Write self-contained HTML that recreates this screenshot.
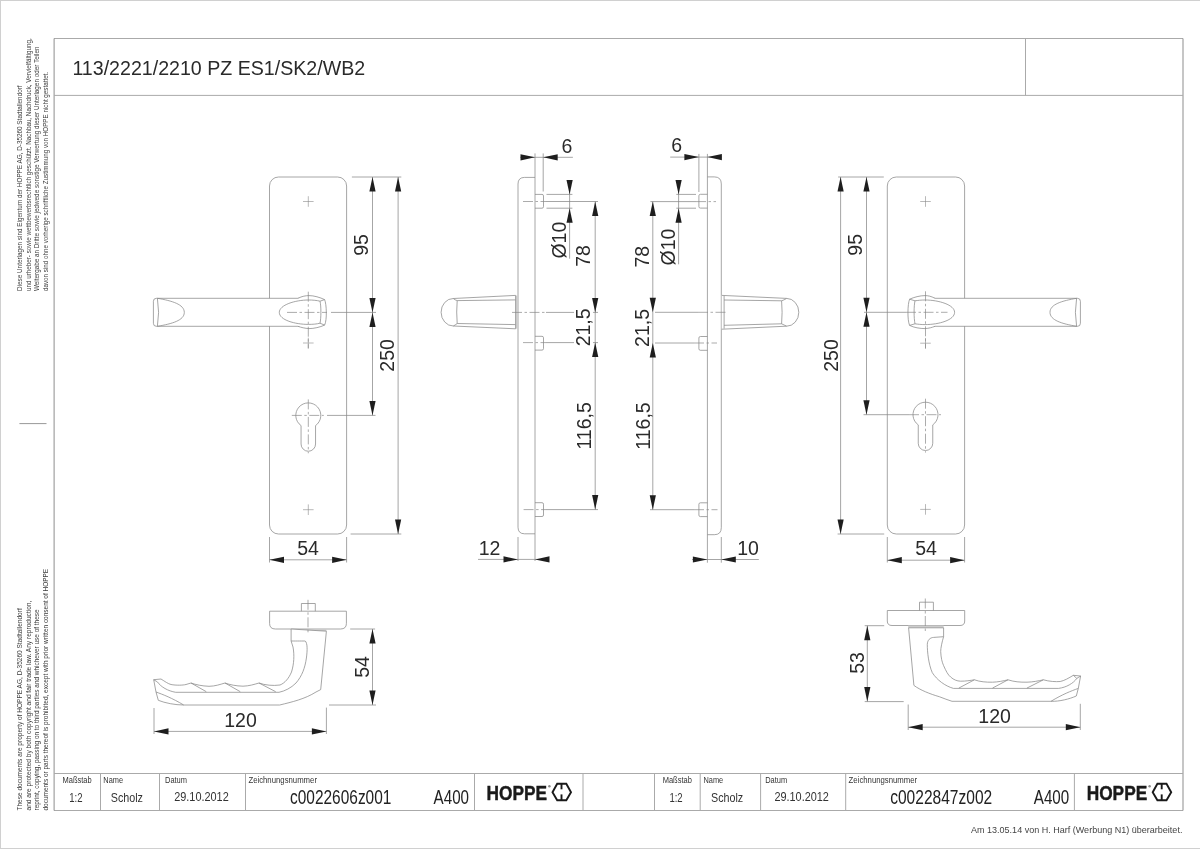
<!DOCTYPE html><html><head><meta charset="utf-8"><title>HOPPE 113/2221/2210</title><style>
html,body{margin:0;padding:0;background:#fff;}
svg{display:block;will-change:transform;}
text{font-family:"Liberation Sans",sans-serif;}
.pb{stroke:#d0d0d0;stroke-width:1;}
.fr{stroke:#aaa;stroke-width:1;fill:none;}
.fr2{stroke:#8d8d8d;stroke-width:1;}
.t{stroke:#888;stroke-width:0.75;fill:none;}
.tw{stroke:#888;stroke-width:0.75;fill:#fff;}
.wf{fill:#fff;stroke:none;}
.c{stroke:#8a8a8a;stroke-width:0.6;}
.cl{stroke:#888;stroke-width:0.7;stroke-dasharray:10 2.5 2.5 2.5;fill:none;}
.tk{stroke:#999;stroke-width:1;}
.ar{fill:#1e1e1e;}
.dt{fill:#2a2a2a;}
.ti{fill:#2a2a2a;}
.lg{fill:#3a3a3a;}
.tb{fill:#333;}
.tv{fill:#333;}
.tn{fill:#222;}
.lo{fill:#1a1a1a;font-weight:bold;stroke:#1a1a1a;stroke-width:0.45;}
.hx{stroke:#1a1a1a;stroke-width:1.9;fill:none;}
.bt{fill:#444;}
</style></head><body><svg width="1200" height="849" viewBox="0 0 1200 849"><rect x="0" y="0" width="1200" height="849" fill="#fff"/>
<line class="pb" x1="0.5" y1="0" x2="0.5" y2="849"/>
<line class="pb" x1="0" y1="0.5" x2="1200" y2="0.5"/>
<line class="pb" x1="0" y1="848.5" x2="1200" y2="848.5"/>
<line class="fr" x1="54" y1="38.5" x2="1183" y2="38.5"/>
<line class="fr" x1="54" y1="810.5" x2="1183" y2="810.5"/>
<line class="fr2" x1="54.1" y1="38.5" x2="54.1" y2="810.5"/>
<line class="fr2" x1="1183" y1="38.5" x2="1183" y2="810.5"/>
<line class="fr" x1="54" y1="95.4" x2="1183" y2="95.4"/>
<line class="fr" x1="1025.5" y1="38.5" x2="1025.5" y2="95.4"/>
<line class="fr" x1="54" y1="773.5" x2="1183" y2="773.5"/>
<line class="fr" x1="100.5" y1="773.5" x2="100.5" y2="810.5"/>
<line class="fr" x1="159.5" y1="773.5" x2="159.5" y2="810.5"/>
<line class="fr" x1="245.5" y1="773.5" x2="245.5" y2="810.5"/>
<line class="fr" x1="474.5" y1="773.5" x2="474.5" y2="810.5"/>
<line class="fr" x1="583" y1="773.5" x2="583" y2="810.5"/>
<line class="fr" x1="654.5" y1="773.5" x2="654.5" y2="810.5"/>
<line class="fr" x1="700.2" y1="773.5" x2="700.2" y2="810.5"/>
<line class="fr" x1="760.6" y1="773.5" x2="760.6" y2="810.5"/>
<line class="fr" x1="845.7" y1="773.5" x2="845.7" y2="810.5"/>
<line class="fr" x1="1074.4" y1="773.5" x2="1074.4" y2="810.5"/>
<text class="ti" x="72.4" y="74.5" font-size="20.4" text-anchor="start" textLength="292.8" lengthAdjust="spacingAndGlyphs">113/2221/2210 PZ ES1/SK2/WB2</text>
<text class="lg" transform="translate(21.9 291) rotate(-90)" font-size="7.4" text-anchor="start" textLength="205.6" lengthAdjust="spacingAndGlyphs">Diese Unterlagen sind Eigentum der  HOPPE AG, D-35260 Stadtallendorf</text>
<text class="lg" transform="translate(30.7 291) rotate(-90)" font-size="7.4" text-anchor="start" textLength="252.7" lengthAdjust="spacingAndGlyphs">und urheber- sowie wettbewerbsrechtlich geschützt. Nachbau, Nachdruck, Vervielfältigung,</text>
<text class="lg" transform="translate(38.9 291) rotate(-90)" font-size="7.4" text-anchor="start" textLength="244.5" lengthAdjust="spacingAndGlyphs">Weitergabe an Dritte sowie jedwede sonstige Verwertung dieser Unterlagen oder Teilen</text>
<text class="lg" transform="translate(47.9 291) rotate(-90)" font-size="7.4" text-anchor="start" textLength="219.1" lengthAdjust="spacingAndGlyphs">davon sind ohne vorherige schriftliche Zustimmung von HOPPE nicht gestattet.</text>
<text class="lg" transform="translate(21.5 810.5) rotate(-90)" font-size="7.4" text-anchor="start" textLength="202.2" lengthAdjust="spacingAndGlyphs">These documents are property of HOPPE AG, D-35260 Stadtallendorf</text>
<text class="lg" transform="translate(30.8 810.5) rotate(-90)" font-size="7.4" text-anchor="start" textLength="209.8" lengthAdjust="spacingAndGlyphs">and are protected by both copyright and fair trade law. Any reproduction,</text>
<text class="lg" transform="translate(38.9 810.5) rotate(-90)" font-size="7.4" text-anchor="start" textLength="201" lengthAdjust="spacingAndGlyphs">reprint, copying, passing on to third parties and whichever use of these</text>
<text class="lg" transform="translate(47.6 810.5) rotate(-90)" font-size="7.4" text-anchor="start" textLength="241.7" lengthAdjust="spacingAndGlyphs">documents or parts thereof is prohibited, except with prior written consent of HOPPE</text>
<line class="tk" x1="19.4" y1="423.6" x2="46.5" y2="423.6"/>
<text class="tb" x="62.5" y="783" font-size="8.8" text-anchor="start" textLength="29.2" lengthAdjust="spacingAndGlyphs">Maßstab</text>
<text class="tv" x="69.2" y="801.8" font-size="12.5" text-anchor="start" textLength="13.3" lengthAdjust="spacingAndGlyphs">1:2</text>
<text class="tb" x="103.3" y="783" font-size="8.8" text-anchor="start" textLength="19.7" lengthAdjust="spacingAndGlyphs">Name</text>
<text class="tv" x="110.8" y="802.4" font-size="13" text-anchor="start" textLength="32.2" lengthAdjust="spacingAndGlyphs">Scholz</text>
<text class="tb" x="165" y="783" font-size="8.8" text-anchor="start" textLength="22" lengthAdjust="spacingAndGlyphs">Datum</text>
<text class="tv" x="174.2" y="801.3" font-size="13.5" text-anchor="start" textLength="54.5" lengthAdjust="spacingAndGlyphs">29.10.2012</text>
<text class="tb" x="248.4" y="783" font-size="8.8" text-anchor="start" textLength="68.6" lengthAdjust="spacingAndGlyphs">Zeichnungsnummer</text>
<text class="tn" x="290" y="804" font-size="19.5" text-anchor="start" textLength="101.4" lengthAdjust="spacingAndGlyphs">c0022606z001</text>
<text class="tn" x="433.6" y="804" font-size="19.5" text-anchor="start" textLength="35.4" lengthAdjust="spacingAndGlyphs">A400</text>
<text class="lo" x="486.5" y="799.6" font-size="20" text-anchor="start" textLength="60.5" lengthAdjust="spacingAndGlyphs">HOPPE</text>
<circle cx="549.4" cy="786.3" r="1.25" fill="#8a8a8a"/>
<polygon class="hx" points="552.5,792.2 557.2,783.8 566.3,783.8 571,792.2 566.3,800.2 557.2,800.2"/>
<line class="hx" x1="561.5" y1="784" x2="561.5" y2="789.3"/>
<line class="hx" x1="561.5" y1="794.4" x2="561.5" y2="800"/>
<text class="tb" x="662.7" y="783" font-size="8.8" text-anchor="start" textLength="29.2" lengthAdjust="spacingAndGlyphs">Maßstab</text>
<text class="tv" x="669.4" y="801.8" font-size="12.5" text-anchor="start" textLength="13.3" lengthAdjust="spacingAndGlyphs">1:2</text>
<text class="tb" x="703.5" y="783" font-size="8.8" text-anchor="start" textLength="19.7" lengthAdjust="spacingAndGlyphs">Name</text>
<text class="tv" x="711" y="802.4" font-size="13" text-anchor="start" textLength="32.2" lengthAdjust="spacingAndGlyphs">Scholz</text>
<text class="tb" x="765.2" y="783" font-size="8.8" text-anchor="start" textLength="22" lengthAdjust="spacingAndGlyphs">Datum</text>
<text class="tv" x="774.4" y="801.3" font-size="13.5" text-anchor="start" textLength="54.5" lengthAdjust="spacingAndGlyphs">29.10.2012</text>
<text class="tb" x="848.6" y="783" font-size="8.8" text-anchor="start" textLength="68.6" lengthAdjust="spacingAndGlyphs">Zeichnungsnummer</text>
<text class="tn" x="890.2" y="804" font-size="19.5" text-anchor="start" textLength="102" lengthAdjust="spacingAndGlyphs">c0022847z002</text>
<text class="tn" x="1033.8" y="804" font-size="19.5" text-anchor="start" textLength="35.4" lengthAdjust="spacingAndGlyphs">A400</text>
<text class="lo" x="1086.7" y="799.6" font-size="20" text-anchor="start" textLength="60.5" lengthAdjust="spacingAndGlyphs">HOPPE</text>
<circle cx="1149.6" cy="786.3" r="1.25" fill="#8a8a8a"/>
<polygon class="hx" points="1152.7,792.2 1157.4,783.8 1166.5,783.8 1171.2,792.2 1166.5,800.2 1157.4,800.2"/>
<line class="hx" x1="1161.7" y1="784" x2="1161.7" y2="789.3"/>
<line class="hx" x1="1161.7" y1="794.4" x2="1161.7" y2="800"/>
<text class="bt" x="971" y="833.4" font-size="9.2" text-anchor="start" textLength="211.4" lengthAdjust="spacingAndGlyphs">Am 13.05.14 von H. Harf (Werbung N1) überarbeitet.</text>
<rect class="tw" x="269.5" y="177" width="77.1" height="357" rx="9"/>
<line class="c" x1="303" y1="201.5" x2="313.6" y2="201.5"/>
<line class="c" x1="308.3" y1="196.2" x2="308.3" y2="206.8"/>
<line class="c" x1="303" y1="343" x2="313.6" y2="343"/>
<line class="c" x1="308.3" y1="337.7" x2="308.3" y2="348.3"/>
<line class="c" x1="303" y1="509.7" x2="313.6" y2="509.7"/>
<line class="c" x1="308.3" y1="504.4" x2="308.3" y2="515"/>
<path class="tw" d="M301.05,425.58 A12.5,12.5 0 1 1 315.55,425.58 L315.55,444 A7.25,7.25 0 0 1 301.05,444 Z"/>
<line class="cl" x1="291.8" y1="415.4" x2="323.8" y2="415.4"/>
<line class="cl" x1="308.3" y1="399.4" x2="308.3" y2="453.25"/>
<path class="wf" d="M157.5,298.3 L300,298.3 L300,326.3 L157.5,326.3 Q151.2,312.4 157.5,298.3 Z"/>
<path class="t" d="M300,298.3 L156.3,298.3 Q153.4,298.3 153.4,301.3 L153.4,323.3 Q153.4,326.3 156.3,326.3 L300,326.3"/>
<path class="t" d="M157.4,298.3 Q159.8,312.4 157.4,326.3"/>
<path class="t" d="M157.5,298.3 C172,300.8 184.3,304.4 184.3,312.4 C184.3,320.4 172,323.8 157.5,326.3"/>
<path class="wf" d="M298,298.3 C302,296.2 306,295.6 309,295.6 C314,295.6 320,297.4 324.6,299.6 C326.6,304 327.2,320 324.6,325.1 C320,327.2 314,328.6 309,328.6 C305,328.4 301,327.4 298,326.3 Z"/>
<path class="t" d="M298,298.3 C302,296.2 306,295.6 309,295.6 C314,295.6 320,297.4 324.6,299.6 C326.6,304 327.2,320 324.6,325.1 C320,327.2 314,328.6 309,328.6 C305,328.4 301,327.4 298,326.3"/>
<path class="t" d="M308.5,300 C295,300 279.3,305 279.3,312.4 C279.3,320 295,324.4 308.5,324.4 C313,324.4 317,324 320,323.2 C321.2,318 321.2,306 320,301.2 C317,300.4 313,300 308.5,300 Z"/>
<path class="t" d="M320,301.2 L324.6,299.6 M320,323.2 L324.6,325.1"/>
<line class="cl" x1="287" y1="312.4" x2="327" y2="312.4"/>
<line class="t" x1="331" y1="312.4" x2="376" y2="312.4"/>
<line class="cl" x1="308.3" y1="291.7" x2="308.3" y2="348.5"/>
<line class="t" x1="351.9" y1="177" x2="401.3" y2="177"/>
<line class="t" x1="350.6" y1="534" x2="401.3" y2="534"/>
<line class="t" x1="372.5" y1="177" x2="372.5" y2="415.4"/>
<polygon class="ar" points="372.5,177 369.4,191.5 375.6,191.5"/>
<polygon class="ar" points="372.5,312.4 369.4,297.9 375.6,297.9"/>
<polygon class="ar" points="372.5,312.4 369.4,326.9 375.6,326.9"/>
<polygon class="ar" points="372.5,415.4 369.4,400.9 375.6,400.9"/>
<line class="t" x1="327" y1="415.4" x2="375.5" y2="415.4"/>
<text class="dt" transform="translate(367.9 245) rotate(-90)" font-size="19.5" text-anchor="middle">95</text>
<line class="t" x1="398.1" y1="177" x2="398.1" y2="534"/>
<polygon class="ar" points="398.1,177 395,191.5 401.2,191.5"/>
<polygon class="ar" points="398.1,534 395,519.5 401.2,519.5"/>
<text class="dt" transform="translate(394 355.4) rotate(-90)" font-size="19.5" text-anchor="middle">250</text>
<line class="t" x1="269.5" y1="537" x2="269.5" y2="562.5"/>
<line class="t" x1="346.6" y1="537" x2="346.6" y2="562.5"/>
<line class="t" x1="269.5" y1="559.8" x2="346.6" y2="559.8"/>
<polygon class="ar" points="269.5,559.8 284,556.7 284,562.9"/>
<polygon class="ar" points="346.6,559.8 332.1,556.7 332.1,562.9"/>
<text class="dt" x="308" y="555" font-size="19.5" text-anchor="middle">54</text>
<rect class="tw" x="887.3" y="177" width="77.3" height="357" rx="9"/>
<line class="c" x1="920.2" y1="201.5" x2="930.8" y2="201.5"/>
<line class="c" x1="925.5" y1="196.2" x2="925.5" y2="206.8"/>
<line class="c" x1="920.2" y1="343.2" x2="930.8" y2="343.2"/>
<line class="c" x1="925.5" y1="337.9" x2="925.5" y2="348.5"/>
<line class="c" x1="920.2" y1="509.4" x2="930.8" y2="509.4"/>
<line class="c" x1="925.5" y1="504.1" x2="925.5" y2="514.7"/>
<path class="tw" d="M918.25,424.88 A12.5,12.5 0 1 1 932.75,424.88 L932.75,443.3 A7.25,7.25 0 0 1 918.25,443.3 Z"/>
<line class="cl" x1="909" y1="414.7" x2="941" y2="414.7"/>
<line class="cl" x1="925.5" y1="398.7" x2="925.5" y2="452.55"/>
<path class="wf" d="M1076.7,298.3 L934,298.3 L934,326.3 L1076.7,326.3 Q1083.4,312.3 1076.7,298.3 Z"/>
<path class="t" d="M934,298.3 L1077.5,298.3 Q1080.4,298.3 1080.4,301.3 L1080.4,323.3 Q1080.4,326.3 1077.5,326.3 L934,326.3"/>
<path class="t" d="M1076.6,298.3 Q1074.2,312.3 1076.6,326.3"/>
<path class="t" d="M1076.7,298.3 C1062,300.8 1050,304.3 1050,312.3 C1050,320.3 1062,323.8 1076.7,326.3"/>
<path class="wf" d="M935,298.3 C931,296.2 928,295.6 925,295.6 C920,295.6 914,297.2 909.6,299.2 C907.6,304 907.2,320 909.6,325.4 C914,327.6 920,328.6 925,328.6 C929,328.4 932,327.4 935,326.3 Z"/>
<path class="t" d="M935,298.3 C931,296.2 928,295.6 925,295.6 C920,295.6 914,297.2 909.6,299.2 C907.6,304 907.2,320 909.6,325.4 C914,327.6 920,328.6 925,328.6 C929,328.4 932,327.4 935,326.3"/>
<path class="t" d="M925,300 C939,300 954.6,305 954.6,312.3 C954.6,320 939,324.6 925,324.6 C921,324.6 918,324.2 915,323.8 C913.8,318 913.8,306 915,300.8 C918,300.4 921,300 925,300 Z"/>
<path class="t" d="M915,300.8 L909.6,299.2 M915,323.8 L909.6,325.4"/>
<line class="t" x1="864" y1="312.3" x2="906" y2="312.3"/>
<line class="cl" x1="906" y1="312.3" x2="947.5" y2="312.3"/>
<line class="cl" x1="925.5" y1="291.3" x2="925.5" y2="348.5"/>
<line class="t" x1="838.1" y1="177" x2="883.8" y2="177"/>
<line class="t" x1="837.6" y1="534" x2="884.2" y2="534"/>
<line class="t" x1="866.5" y1="177" x2="866.5" y2="414.7"/>
<polygon class="ar" points="866.5,177 863.4,191.5 869.6,191.5"/>
<polygon class="ar" points="866.5,312.3 863.4,297.8 869.6,297.8"/>
<polygon class="ar" points="866.5,312.3 863.4,326.8 869.6,326.8"/>
<polygon class="ar" points="866.5,414.7 863.4,400.2 869.6,400.2"/>
<line class="t" x1="863.5" y1="414.7" x2="909" y2="414.7"/>
<text class="dt" transform="translate(862 244.8) rotate(-90)" font-size="19.5" text-anchor="middle">95</text>
<line class="t" x1="840.6" y1="177" x2="840.6" y2="534"/>
<polygon class="ar" points="840.6,177 837.5,191.5 843.7,191.5"/>
<polygon class="ar" points="840.6,534 837.5,519.5 843.7,519.5"/>
<text class="dt" transform="translate(837.6 355.5) rotate(-90)" font-size="19.5" text-anchor="middle">250</text>
<line class="t" x1="887.3" y1="537" x2="887.3" y2="562.5"/>
<line class="t" x1="964.6" y1="537" x2="964.6" y2="562.5"/>
<line class="t" x1="887.3" y1="560.2" x2="964.6" y2="560.2"/>
<polygon class="ar" points="887.3,560.2 901.8,557.1 901.8,563.3"/>
<polygon class="ar" points="964.6,560.2 950.1,557.1 950.1,563.3"/>
<text class="dt" x="926" y="554.6" font-size="19.5" text-anchor="middle">54</text>
<path class="tw" d="M535,177.4 L524.6,177.4 Q518,177.4 518,184 L518,527.2 Q518,533.8 524.6,533.8 L535,533.8"/>
<line class="t" x1="535" y1="153.4" x2="535" y2="561"/>
<line class="t" x1="543.2" y1="153.4" x2="543.2" y2="191.5"/>
<line class="t" x1="518" y1="537" x2="518" y2="561"/>
<path class="t" d="M535,194.4 L542,194.4 Q543.5,194.4 543.5,195.9 L543.5,206.7 Q543.5,208.2 542,208.2 L535,208.2"/>
<path class="t" d="M535,336.3 L542,336.3 Q543.5,336.3 543.5,337.8 L543.5,348.6 Q543.5,350.1 542,350.1 L535,350.1"/>
<path class="t" d="M535,502.7 L542,502.7 Q543.5,502.7 543.5,504.2 L543.5,515 Q543.5,516.5 542,516.5 L535,516.5"/>
<rect x="515.4" y="295.6" width="2.6" height="33" fill="#cfcfcf"/>
<path class="tw" d="M515.6,295.4 L453.3,298.5 A12.2,13.75 0 0 0 453.3,326 L515.6,328.8"/>
<path class="t" d="M515.6,295.4 L515.6,328.8"/>
<path class="t" d="M515.4,299.9 L457.2,300.6 Q455,300 453.3,298.6 M457.2,323.5 L515.4,324.6 M457.2,323.5 Q455,325.2 453.3,326"/>
<path class="t" d="M457.2,300.6 Q456.2,312.1 457.2,323.5"/>
<line class="cl" x1="523" y1="201.5" x2="546" y2="201.5"/>
<line class="t" x1="546" y1="201.5" x2="598" y2="201.5"/>
<line class="cl" x1="512" y1="312.4" x2="546" y2="312.4"/>
<line class="t" x1="546" y1="312.4" x2="574" y2="312.4"/>
<line class="t" x1="593" y1="312.4" x2="598" y2="312.4"/>
<line class="cl" x1="523" y1="342.6" x2="546" y2="342.6"/>
<line class="t" x1="546" y1="342.6" x2="574" y2="342.6"/>
<line class="t" x1="593" y1="342.6" x2="598" y2="342.6"/>
<line class="cl" x1="523.6" y1="509.6" x2="546" y2="509.6"/>
<line class="t" x1="546" y1="509.6" x2="598" y2="509.6"/>
<line class="t" x1="520.1" y1="157.3" x2="572.9" y2="157.3"/>
<polygon class="ar" points="535,157.3 520.5,154.2 520.5,160.4"/>
<polygon class="ar" points="543.2,157.3 557.7,154.2 557.7,160.4"/>
<text class="dt" x="567" y="152.9" font-size="19.5" text-anchor="middle">6</text>
<line class="t" x1="546.5" y1="194.4" x2="572.4" y2="194.4"/>
<line class="t" x1="546.5" y1="208.2" x2="572.4" y2="208.2"/>
<line class="t" x1="569.6" y1="180.2" x2="569.6" y2="258.7"/>
<polygon class="ar" points="569.6,194.4 566.5,179.9 572.7,179.9"/>
<polygon class="ar" points="569.6,208.2 566.5,222.7 572.7,222.7"/>
<text class="dt" transform="translate(565.6 240.2) rotate(-90)" font-size="19.5" text-anchor="middle">Ø10</text>
<line class="t" x1="595.2" y1="201.5" x2="595.2" y2="509.6"/>
<polygon class="ar" points="595.2,201.5 592.1,216 598.3,216"/>
<polygon class="ar" points="595.2,312.4 592.1,297.9 598.3,297.9"/>
<polygon class="ar" points="595.2,342.6 592.1,357.1 598.3,357.1"/>
<polygon class="ar" points="595.2,509.6 592.1,495.1 598.3,495.1"/>
<text class="dt" transform="translate(590.4 255.9) rotate(-90)" font-size="19.5" text-anchor="middle">78</text>
<text class="dt" transform="translate(590.4 327.4) rotate(-90)" font-size="19.5" text-anchor="middle">21,5</text>
<text class="dt" transform="translate(591.2 425.9) rotate(-90)" font-size="19.5" text-anchor="middle">116,5</text>
<line class="t" x1="478" y1="559.4" x2="549" y2="559.4"/>
<polygon class="ar" points="518,559.4 503.5,556.3 503.5,562.5"/>
<polygon class="ar" points="535,559.4 549.5,556.3 549.5,562.5"/>
<text class="dt" x="489.5" y="555" font-size="19.5" text-anchor="middle">12</text>
<path class="tw" d="M707.4,176.9 L714.3,176.9 Q721.3,176.9 721.3,183.9 L721.3,527.7 Q721.3,534.7 714.3,534.7 L707.4,534.7"/>
<line class="t" x1="707.4" y1="153.9" x2="707.4" y2="562.7"/>
<line class="t" x1="698.9" y1="153.9" x2="698.9" y2="192"/>
<line class="t" x1="721.3" y1="537" x2="721.3" y2="562.7"/>
<path class="t" d="M707.4,194.3 L700.4,194.3 Q698.9,194.3 698.9,195.8 L698.9,206.6 Q698.9,208.1 700.4,208.1 L707.4,208.1"/>
<path class="t" d="M707.4,336.5 L700.4,336.5 Q698.9,336.5 698.9,338 L698.9,348.8 Q698.9,350.3 700.4,350.3 L707.4,350.3"/>
<path class="t" d="M707.4,502.8 L700.4,502.8 Q698.9,502.8 698.9,504.3 L698.9,515.1 Q698.9,516.6 700.4,516.6 L707.4,516.6"/>
<rect x="721.6" y="295.6" width="2.5" height="33" fill="#e2e2e2"/>
<path class="tw" d="M722,295.4 L786.6,298.4 A12.2,13.9 0 0 1 786.6,326.2 L722,329.2"/>
<path class="t" d="M724.1,296 L724.1,328.6"/>
<path class="t" d="M724.1,300 L781.6,300.8 Q784,300 786.6,298.5 M724.1,325.3 L781.6,323.8 Q784,325 786.6,326.1"/>
<path class="t" d="M781.6,300.8 Q782.6,312.3 781.6,323.8"/>
<line class="t" x1="650.4" y1="201.6" x2="696" y2="201.6"/>
<line class="cl" x1="696" y1="201.6" x2="716" y2="201.6"/>
<line class="t" x1="650" y1="312.3" x2="650" y2="312.3"/>
<line class="t" x1="655" y1="312.3" x2="698" y2="312.3"/>
<line class="cl" x1="698" y1="312.3" x2="727" y2="312.3"/>
<line class="t" x1="655" y1="343" x2="694" y2="343"/>
<line class="cl" x1="694" y1="343" x2="717" y2="343"/>
<line class="t" x1="650" y1="509.7" x2="694" y2="509.7"/>
<line class="cl" x1="694" y1="509.7" x2="717.5" y2="509.7"/>
<line class="t" x1="670.2" y1="157.1" x2="721.5" y2="157.1"/>
<polygon class="ar" points="698.9,157.1 684.4,154 684.4,160.2"/>
<polygon class="ar" points="707.4,157.1 721.9,154 721.9,160.2"/>
<text class="dt" x="676.8" y="152.4" font-size="19.5" text-anchor="middle">6</text>
<line class="t" x1="676.3" y1="194.4" x2="696" y2="194.4"/>
<line class="t" x1="676.3" y1="208.2" x2="696" y2="208.2"/>
<line class="t" x1="678.6" y1="180.2" x2="678.6" y2="264.3"/>
<polygon class="ar" points="678.6,194.4 675.5,179.9 681.7,179.9"/>
<polygon class="ar" points="678.6,208.2 675.5,222.7 681.7,222.7"/>
<text class="dt" transform="translate(674.5 247) rotate(-90)" font-size="19.5" text-anchor="middle">Ø10</text>
<line class="t" x1="652.8" y1="201.6" x2="652.8" y2="509.7"/>
<polygon class="ar" points="652.8,201.6 649.7,216.1 655.9,216.1"/>
<polygon class="ar" points="652.8,312.3 649.7,297.8 655.9,297.8"/>
<polygon class="ar" points="652.8,343 649.7,357.5 655.9,357.5"/>
<polygon class="ar" points="652.8,509.7 649.7,495.2 655.9,495.2"/>
<text class="dt" transform="translate(648.9 256.7) rotate(-90)" font-size="19.5" text-anchor="middle">78</text>
<text class="dt" transform="translate(649.2 328) rotate(-90)" font-size="19.5" text-anchor="middle">21,5</text>
<text class="dt" transform="translate(649.7 426) rotate(-90)" font-size="19.5" text-anchor="middle">116,5</text>
<line class="t" x1="692" y1="559.5" x2="758.8" y2="559.5"/>
<polygon class="ar" points="707.4,559.5 692.9,556.4 692.9,562.6"/>
<polygon class="ar" points="721.3,559.5 735.8,556.4 735.8,562.6"/>
<text class="dt" x="748" y="554.8" font-size="19.5" text-anchor="middle">10</text>
<path class="tw" d="M269.6,611.2 L346.4,611.2 L346.4,623.5 Q346.4,629 340.5,629 L275.5,629 Q269.6,629 269.6,623.5 Z"/>
<path class="t" d="M301.4,611.2 L301.4,603.5 L315.3,603.5 L315.3,611.2"/>
<rect x="291.1" y="629" width="35.3" height="2.2" fill="#ccc"/>
<path class="tw" d="M291.1,629 L291.1,641 C297,641 303,641 305.2,641 C307.5,643 307.5,650 306.4,658 C305,668 302,676 296,683 C291,688 285,691 279,692.3 L175.7,692.3 C168,691 161,687 157.5,682 L153.7,679.7 L156,692 L158.3,700.3 C165,703 175,705 183.7,705 L279.7,705 C292,702 305,699 316,692 L320.7,689.6 L326.4,631.2 Z"/>
<path class="t" d="M153.7,679.7 L161,679 C165,681.5 168,683.8 171,684.5 C176,685.5 183,685.3 186,684.5 L191,683 C196,684.8 202,686 209,686.3 C215,686.2 220,684.5 225,683 C230,684.8 236,686 243,686.2 C249,686 254,684.5 259,683 C265,685.2 273,686 280,685 C285,683 289,678 291.5,672 C294,664 294.5,655 293,647 L291.1,641"/>
<path class="t" d="M191,683 L206.3,691.7 M225,683 L240.3,691.7 M259,683 L275.7,691.7"/>
<path class="t" d="M156,692 C163,694.5 172,698 183.7,705"/>
<line class="cl" x1="308" y1="599.8" x2="308" y2="632.3"/>
<line class="t" x1="350.2" y1="629" x2="375.1" y2="629"/>
<line class="t" x1="329" y1="705" x2="376" y2="705"/>
<line class="t" x1="372.5" y1="629" x2="372.5" y2="705"/>
<polygon class="ar" points="372.5,629 369.4,643.5 375.6,643.5"/>
<polygon class="ar" points="372.5,705 369.4,690.5 375.6,690.5"/>
<text class="dt" transform="translate(368.6 667) rotate(-90)" font-size="19.5" text-anchor="middle">54</text>
<line class="t" x1="154" y1="708" x2="154" y2="734"/>
<line class="t" x1="326.4" y1="707.6" x2="326.4" y2="734"/>
<line class="t" x1="154" y1="731.4" x2="326.4" y2="731.4"/>
<polygon class="ar" points="154,731.4 168.5,728.3 168.5,734.5"/>
<polygon class="ar" points="326.4,731.4 311.9,728.3 311.9,734.5"/>
<text class="dt" x="240.5" y="727" font-size="19.5" text-anchor="middle">120</text>
<path class="tw" d="M887.3,610.5 L964.7,610.5 L964.7,621 Q964.7,625.5 960,625.5 L892,625.5 Q887.3,625.5 887.3,621 Z"/>
<path class="t" d="M919.5,610.5 L919.5,602.2 L933.4,602.2 L933.4,610.5"/>
<rect x="908.2" y="625.5" width="35.4" height="2.3" fill="#ccc"/>
<path class="tw" d="M908.6,627.8 L913.9,685.4 C920,690 930,694 939.3,696.7 C944,698.5 948,700 952,701.3 L1051,701.3 C1059.5,701.6 1069.5,699 1076.3,696 L1078.3,688.4 L1080.6,676 L1073.3,675.3 L1076.8,678.4 C1073.3,683.4 1066.3,687.4 1058.6,688.4 L953.4,688.4 C945,686 937,680 932.3,672.7 C928.5,664 927.3,652 927.3,644.4 C927.5,640 930,637.6 933.7,637.4 L943.6,636.7 L943.6,627.8 Z"/>
<path class="t" d="M943.6,636.7 C942,642 940.7,648 940.7,651.5 C941,658 942,662 943.6,665.6 C946,671 948,675 950.6,677 C954,680 957,681 960.5,681.2 C966,681.2 970,680.5 974.4,679.8 C980,681.8 986,682.3 992.5,682.2 C998,682 1003,681 1008,679.8 C1014,681.8 1020,682.3 1027,682.2 C1033,682 1038,681 1043.4,679.8 C1049,681.5 1056,681.9 1060.2,681.5 C1064,680.8 1069,678 1073.3,675.3"/>
<path class="t" d="M974.4,679.8 L958.8,688.1 M1008,679.8 L992.5,688.1 M1043.4,679.8 L1026.9,688.1"/>
<path class="t" d="M1078.3,688.4 C1071.3,690.9 1062.3,694.4 1051,701.3 M1076.8,678.4 L1080.6,676"/>
<line class="cl" x1="925.3" y1="598.5" x2="925.3" y2="631"/>
<line class="t" x1="864.7" y1="625.7" x2="884.2" y2="625.7"/>
<line class="t" x1="864.7" y1="701.6" x2="903.7" y2="701.6"/>
<line class="t" x1="867.3" y1="625.7" x2="867.3" y2="701.6"/>
<polygon class="ar" points="867.3,625.7 864.2,640.2 870.4,640.2"/>
<polygon class="ar" points="867.3,701.6 864.2,687.1 870.4,687.1"/>
<text class="dt" transform="translate(863.6 663) rotate(-90)" font-size="19.5" text-anchor="middle">53</text>
<line class="t" x1="908.2" y1="704.5" x2="908.2" y2="730"/>
<line class="t" x1="1080.3" y1="703.8" x2="1080.3" y2="730"/>
<line class="t" x1="908.2" y1="727.2" x2="1080.3" y2="727.2"/>
<polygon class="ar" points="908.2,727.2 922.7,724.1 922.7,730.3"/>
<polygon class="ar" points="1080.3,727.2 1065.8,724.1 1065.8,730.3"/>
<text class="dt" x="994.6" y="723.3" font-size="19.5" text-anchor="middle">120</text></svg></body></html>
